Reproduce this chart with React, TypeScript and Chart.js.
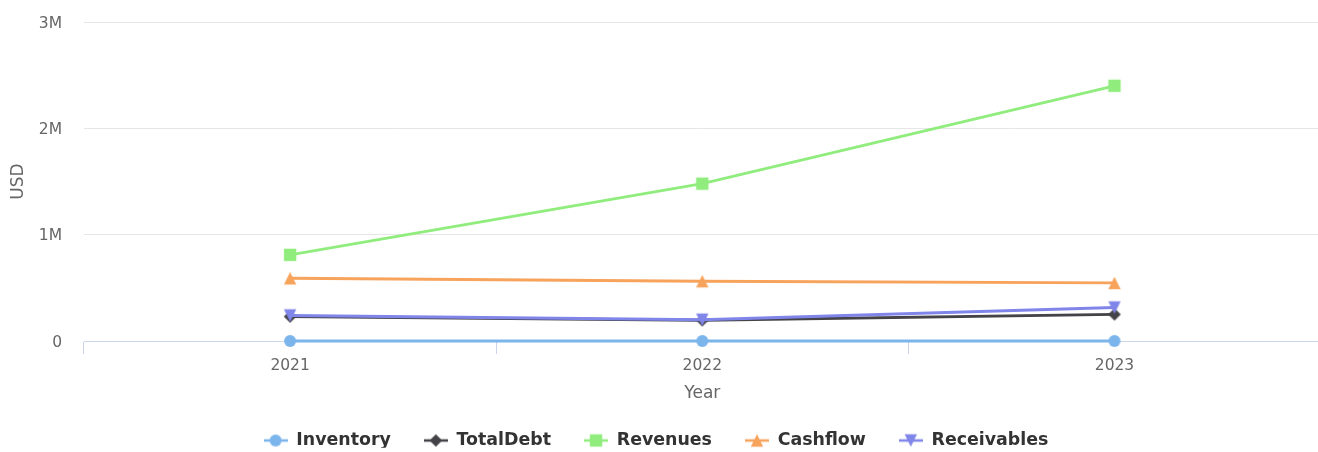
import React, { useEffect, useRef } from "react";
import { Chart, registerables } from "chart.js";

Chart.register(...registerables);

const years = ["2021", "2022", "2023"];
const inventory = [0, 0, 0];
const totalDebt = [230000, 195000, 250000];
const revenues = [810000, 1480000, 2400000];
const cashflow = [590000, 562000, 546000];
const receivables = [240000, 200000, 315000];
const yTickValues = [0, 1000000, 2000000, 3000000];

const seriesNames = ["Inventory", "TotalDebt", "Revenues", "Cashflow", "Receivables"];
const seriesColors = ["#7cb5ec", "#434348", "#90ed7d", "#f7a35c", "#8085e9"];
const markerKinds = ["circle", "diamond", "square", "triangle", "triangle-down"];

const FONT = "'DejaVu Sans', sans-serif";

function drawMarker(ctx: CanvasRenderingContext2D, kind: string, cx: number, cy: number, color: string) {
  ctx.fillStyle = color;
  ctx.beginPath();
  if (kind === "circle") {
    ctx.arc(cx, cy, 6, 0, Math.PI * 2);
  } else if (kind === "diamond") {
    const r = 6.3;
    ctx.moveTo(cx, cy - r);
    ctx.lineTo(cx + r, cy);
    ctx.lineTo(cx, cy + r);
    ctx.lineTo(cx - r, cy);
    ctx.closePath();
  } else if (kind === "square") {
    const r = 6.2;
    ctx.rect(cx - r, cy - r, 2 * r, 2 * r);
  } else if (kind === "triangle") {
    const r = 6.2;
    ctx.moveTo(cx, cy - r);
    ctx.lineTo(cx + r, cy + r);
    ctx.lineTo(cx - r, cy + r);
    ctx.closePath();
  } else {
    const r = 6.2;
    ctx.moveTo(cx - r, cy - r);
    ctx.lineTo(cx + r, cy - r);
    ctx.lineTo(cx, cy + r);
    ctx.closePath();
  }
  ctx.fill();
}

function makeMarkerImage(kind: string, color: string) {
  const c = document.createElement("canvas");
  c.width = 16;
  c.height = 16;
  const ctx = c.getContext("2d")!;
  drawMarker(ctx, kind, 8, 8, color);
  return c;
}

function makeLegendSymbol(kind: string, color: string) {
  const c = document.createElement("canvas");
  c.width = 24;
  c.height = 16;
  const ctx = c.getContext("2d")!;
  ctx.strokeStyle = color;
  ctx.lineWidth = 2.5;
  ctx.beginPath();
  ctx.moveTo(0, 8);
  ctx.lineTo(24, 8);
  ctx.stroke();
  drawMarker(ctx, kind, 12, 8, color);
  return c;
}

const LEGEND_PAD = 33;
const LEGEND_FONT = 17.4;

const legendShift = {
  id: "legendShift",
  afterLayout(chart: any) {
    const lg = chart.legend;
    if (!lg) return;
    const h = lg.height;
    lg.top = 440.5 - LEGEND_FONT / 2 - LEGEND_PAD;
    lg.bottom = lg.top + h;
    lg.left -= 5;
    lg.right -= 5;
  },
};

export default function App() {
  const canvasRef = useRef<HTMLCanvasElement | null>(null);

  useEffect(() => {
    document.body.style.margin = "0";
    const canvas = canvasRef.current;
    if (!canvas) return;
    const seriesData = [inventory, totalDebt, revenues, cashflow, receivables];
    const legendSymbols = seriesNames.map((_, i) => makeLegendSymbol(markerKinds[i], seriesColors[i]));

    const datasets = seriesNames.map((name, i) => ({
      label: name,
      data: seriesData[i],
      borderColor: seriesColors[i],
      backgroundColor: seriesColors[i],
      borderWidth: 2.8,
      borderCapStyle: "round" as const,
      borderJoinStyle: "round" as const,
      pointStyle: makeMarkerImage(markerKinds[i], seriesColors[i]) as any,
      pointRadius: 1.4,
      pointHoverRadius: 1.4,
      pointHitRadius: 6,
      pointBorderWidth: 0,
      pointBackgroundColor: seriesColors[i],
      tension: 0,
      fill: false,
      clip: false as any,
      order: seriesNames.length - 1 - i,
    }));

    const chart = new Chart(canvas, {
      type: "line",
      data: { labels: years, datasets },
      plugins: [legendShift],
      options: {
        animation: false,
        responsive: true,
        maintainAspectRatio: false,
        layout: { padding: { top: 22, left: 0, right: 0, bottom: 0 } },
        font: { family: FONT },
        plugins: {
          tooltip: { enabled: false },
          legend: {
            position: "bottom",
            align: "center",
            maxHeight: 49,
            labels: {
              usePointStyle: true,
              pointStyleWidth: 24,
              padding: LEGEND_PAD,
              color: "#333333",
              font: { family: FONT, size: LEGEND_FONT, weight: "bold" },
              generateLabels: (ch: any) =>
                ch.data.datasets.map((ds: any, i: number) => ({
                  text: ds.label,
                  pointStyle: legendSymbols[i],
                  fillStyle: seriesColors[i],
                  strokeStyle: seriesColors[i],
                  lineWidth: 0,
                  hidden: !ch.isDatasetVisible(i),
                  datasetIndex: i,
                  fontColor: "#333333",
                })),
            },
          },
        },
        scales: {
          x: {
            type: "category",
            offset: true,
            afterFit: (scale: any) => {
              scale.height = 62;
            },
            border: { display: true, color: "#ccd6eb", width: 1 },
            grid: {
              offset: true,
              drawOnChartArea: false,
              drawTicks: true,
              tickLength: 13,
              color: "#ccd6eb",
              lineWidth: 1,
            },
            ticks: {
              color: "#666666",
              padding: 3,
              font: { family: FONT, size: 15.5 },
              maxRotation: 0,
            },
            title: {
              display: true,
              text: "Year",
              color: "#666666",
              font: { family: FONT, size: 17 },
              padding: { top: 0, bottom: -1 },
            },
          },
          y: {
            min: 0,
            max: 3000000,
            afterFit: (scale: any) => {
              scale.width = 84;
            },
            afterBuildTicks: (scale: any) => {
              scale.ticks = yTickValues.map((v) => ({ value: v }));
            },
            border: { display: false },
            grid: {
              drawTicks: true,
              tickLength: 22,
              tickColor: "rgba(0,0,0,0)",
              color: (ctx: any) => (ctx.tick && ctx.tick.value === 0 ? "rgba(0,0,0,0)" : "#e6e6e6"),
              lineWidth: 1,
            },
            ticks: {
              color: "#666666",
              padding: 0,
              labelOffset: 1.5,
              font: { family: FONT, size: 15.5 },
              callback: (v: any) => (Number(v) === 0 ? "0" : Number(v) / 1000000 + "M"),
            },
            title: {
              display: true,
              text: "USD",
              color: "#666666",
              font: { family: FONT, size: 17 },
              padding: { top: 8, bottom: 0 },
            },
          },
        },
      } as any,
    });

    return () => {
      chart.destroy();
    };
  }, []);

  return (
    <div style={{ width: 1318, height: 452, overflow: "hidden" }}>
      <div style={{ position: "relative", width: 1322, height: 452 }}>
        <canvas ref={canvasRef} />
      </div>
    </div>
  );
}
